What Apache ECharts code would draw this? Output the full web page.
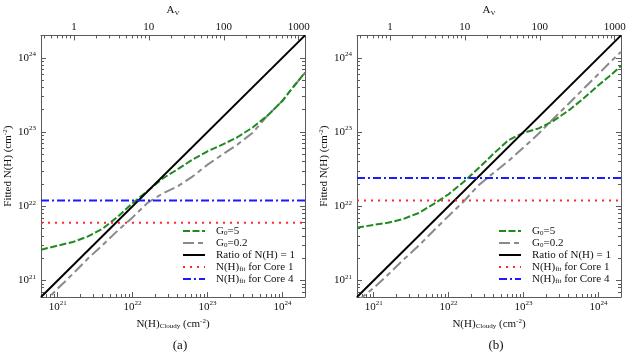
<!DOCTYPE html>
<html>
<head>
<meta charset="utf-8">
<script src="https://cdn.jsdelivr.net/npm/echarts@6/dist/echarts.min.js"></script>
<style>html,body{margin:0;padding:0;background:#fff;}#c{width:633px;height:358px;}</style>
</head>
<body>
<div id="c"></div>
<script>
// ---------------- data ----------------
const axisRange = [6e20, 2e24];                 // N(H) range of both axes
const avFactor = 1.65e21;                       // N(H) per magnitude of A_V
const nhTickExps = [21, 22, 23, 24];            // tick labels 10^n
const avTicks = [1, 10, 100, 1000];             // top-axis tick labels
const panelNames = ['(a)', '(b)'];
const seriesNames = ['G0=5', 'G0=0.2', 'Ratio of N(H) = 1', 'N(H)fit for Core 1', 'N(H)fit for Core 4'];

const nhCloudy = [6e20, 1e21, 1.6e21, 2.5e21, 4e21, 6.3e21, 1e22, 1.6e22, 2.5e22, 4e22, 6.3e22,
                  1e23, 1.6e23, 2.5e23, 4e23, 6.3e23, 1e24, 1.4e24, 2e24];
// panel (a)
const g5_a  = [2.6e21, 2.95e21, 3.3e21, 3.9e21, 5.0e21, 7.2e21, 1.1e22, 1.62e22, 2.35e22, 3.15e22, 4.25e22,
               5.5e22, 6.8e22, 8.5e22, 1.15e23, 1.66e23, 2.63e23, 4.07e23, 6.3e23];
const g02_a = [4.57e20, 7.76e20, 1.23e21, 1.95e21, 3.02e21, 4.68e21, 7.08e21, 1.12e22, 1.48e22, 1.86e22, 2.51e22,
               3.63e22, 5.01e22, 6.76e22, 9.77e22, 1.66e23, 2.63e23, 4.07e23, 6.3e23];
// panel (b)
const g5_b  = [5.13e21, 5.62e21, 6.03e21, 6.76e21, 8.13e21, 1.07e22, 1.45e22, 2.14e22, 3.24e22, 5.13e22, 7.76e22,
               9.77e22, 1.12e23, 1.41e23, 1.95e23, 2.82e23, 4.27e23, 5.62e23, 7.76e23];
const g02_b = [5.25e20, 7.94e20, 1.23e21, 1.91e21, 2.95e21, 4.68e21, 7.41e21, 1.17e22, 1.91e22, 2.82e22, 4.07e22,
               6.17e22, 9.55e22, 1.51e23, 2.4e23, 3.8e23, 6.03e23, 8.51e23, 1.2e24];
const core1 = [6e21, 1.2e22];    // N(H)fit for Core 1, panels a,b
const core4 = [1.2e22, 2.4e22];  // N(H)fit for Core 4, panels a,b

// ---------------- chart ----------------
const L = Math.log10;
const SERIF = '"Liberation Serif", "DejaVu Serif", serif';
const FRAME = '#5a5a5a';
const TXT = '#111';
const lo = L(axisRange[0]), hi = L(axisRange[1]);
const avLo = lo - L(avFactor), avHi = hi - L(avFactor);

function minorVals(a, b) {
  const out = [];
  for (let d = Math.floor(a) - 1; d <= Math.ceil(b); d++)
    for (let k = 2; k <= 9; k++) { const v = d + L(k); if (v > a && v < b) out.push(v); }
  return out;
}
const expRich = {
  b: {fontSize: 11, fontFamily: SERIF, color: TXT},
  s: {fontSize: 7, fontFamily: SERIF, color: TXT, padding: [0, 0, 7, 0]}
};
const nameRich = {
  t: {fontSize: 11, fontFamily: SERIF, color: TXT},
  sub: {fontSize: 7, fontFamily: SERIF, color: TXT, padding: [5, 0, 0, 0]},
  sup: {fontSize: 7, fontFamily: SERIF, color: TXT, padding: [0, 0, 6, 0]}
};
function expFmt(v) { return '{b|10}{s|' + Math.round(v) + '}'; }

const COLORS = {g5: '#1f8a1f', g02: '#8a8a8a', ratio: '#000000', c1: '#ff2a2a', c4: '#1a1aff'};
const grids = [], xAxes = [], yAxes = [], series = [], legends = [], graphics = [];
const panels = [
  {left: 41, g5: g5_a, g02: g02_a, c1: core1[0], c4: core4[0]},
  {left: 357, g5: g5_b, g02: g02_b, c1: core1[1], c4: core4[1]}
];
panels.forEach((p, g) => {
  grids.push({left: p.left, top: 32, width: 264, height: 265});
  const base = {type: 'value', gridIndex: g, splitLine: {show: false}};
  xAxes.push(Object.assign({}, base, {
    position: 'bottom', min: lo, max: hi,
    axisLine: {show: true, onZero: false, lineStyle: {color: FRAME, width: 1}},
    axisTick: {show: true, inside: true, length: 5, customValues: nhTickExps, lineStyle: {color: FRAME}},
    axisLabel: {show: true, customValues: nhTickExps, formatter: expFmt, rich: expRich, margin: 3},
    name: '{t|N(H)}{sub|Cloudy}{t| (cm}{sup|-2}{t|)}', nameLocation: 'middle', nameGap: 19,
    nameTextStyle: {rich: nameRich}
  }));
  xAxes.push(Object.assign({}, base, {
    position: 'bottom', min: lo, max: hi,
    axisLine: {show: false, onZero: false},
    axisTick: {show: true, inside: true, length: 3, customValues: minorVals(lo, hi), lineStyle: {color: FRAME}},
    axisLabel: {show: false}
  }));
  xAxes.push(Object.assign({}, base, {
    position: 'top', min: avLo, max: avHi,
    axisLine: {show: true, onZero: false, lineStyle: {color: FRAME, width: 1}},
    axisTick: {show: true, inside: true, length: 5, customValues: avTicks.map(L), lineStyle: {color: FRAME}},
    axisLabel: {show: true, customValues: avTicks.map(L), margin: 3,
      formatter: v => String(Math.round(Math.pow(10, v))), fontSize: 11, fontFamily: SERIF, color: TXT},
    name: '{t|A}{sub|V}', nameLocation: 'middle', nameGap: 18, nameTextStyle: {rich: nameRich}
  }));
  xAxes.push(Object.assign({}, base, {
    position: 'top', min: avLo, max: avHi,
    axisLine: {show: false, onZero: false},
    axisTick: {show: true, inside: true, length: 3, customValues: minorVals(avLo, avHi), lineStyle: {color: FRAME}},
    axisLabel: {show: false}
  }));
  yAxes.push(Object.assign({}, base, {
    position: 'left', min: lo, max: hi,
    axisLine: {show: true, onZero: false, lineStyle: {color: FRAME, width: 1}},
    axisTick: {show: true, inside: true, length: 5, customValues: nhTickExps, lineStyle: {color: FRAME}},
    axisLabel: {show: true, customValues: nhTickExps, formatter: expFmt, rich: expRich, margin: 5},
    name: '{t|Fitted N(H) (cm}{sup|-2}{t|)}', nameLocation: 'middle', nameGap: 26, nameRotate: 90,
    nameTextStyle: {rich: nameRich}
  }));
  yAxes.push(Object.assign({}, base, {
    position: 'left', min: lo, max: hi,
    axisLine: {show: false, onZero: false},
    axisTick: {show: true, inside: true, length: 3, customValues: minorVals(lo, hi), lineStyle: {color: FRAME}},
    axisLabel: {show: false}
  }));
  yAxes.push(Object.assign({}, base, {
    position: 'right', min: lo, max: hi,
    axisLine: {show: true, onZero: false, lineStyle: {color: FRAME, width: 1}},
    axisTick: {show: true, inside: true, length: 5, customValues: nhTickExps, lineStyle: {color: FRAME}},
    axisLabel: {show: false}
  }));
  yAxes.push(Object.assign({}, base, {
    position: 'right', min: lo, max: hi,
    axisLine: {show: false, onZero: false},
    axisTick: {show: true, inside: true, length: 3, customValues: minorVals(lo, hi), lineStyle: {color: FRAME}},
    axisLabel: {show: false}
  }));

  const xi = 4 * g, yi = 4 * g;
  const common = {type: 'line', xAxisIndex: xi, yAxisIndex: yi, symbol: 'none', showSymbol: false,
                  clip: true, silent: true, animation: false};
  series.push(Object.assign({}, common, {
    name: seriesNames[1], z: 2, itemStyle: {color: COLORS.g02},
    lineStyle: {color: COLORS.g02, width: 2, type: [11, 4, 5, 4]},
    data: nhCloudy.map((x, i) => [L(x), L(p.g02[i])])
  }));
  series.push(Object.assign({}, common, {
    name: seriesNames[0], z: 3, itemStyle: {color: COLORS.g5},
    lineStyle: {color: COLORS.g5, width: 2, type: [7, 2.5]},
    data: nhCloudy.map((x, i) => [L(x), L(p.g5[i])])
  }));
  series.push(Object.assign({}, common, {
    name: seriesNames[2], z: 4, itemStyle: {color: COLORS.ratio},
    lineStyle: {color: COLORS.ratio, width: 2, type: 'solid'},
    data: [[lo, lo], [hi, hi]]
  }));
  series.push(Object.assign({}, common, {
    name: seriesNames[3], z: 4, itemStyle: {color: COLORS.c1},
    lineStyle: {color: COLORS.c1, width: 2, type: [2, 5]},
    data: [[lo, L(p.c1)], [hi, L(p.c1)]]
  }));
  series.push(Object.assign({}, common, {
    name: seriesNames[4], z: 4, itemStyle: {color: COLORS.c4},
    lineStyle: {color: COLORS.c4, width: 2, type: [8, 3, 2, 3]},
    data: [[lo, L(p.c4)], [hi, L(p.c4)]]
  }));

  legends.push({
    orient: 'vertical', left: p.left + 141, top: 225, itemWidth: 22, itemHeight: 12, itemGap: 0,
    padding: 0, selectedMode: false, itemStyle: {opacity: 0},
    data: [seriesNames[0], seriesNames[1], seriesNames[2], seriesNames[3], seriesNames[4]],
    textStyle: {
      fontSize: 11, fontFamily: SERIF, color: TXT, lineHeight: 12,
      rich: {
        f: {fontSize: 11, fontFamily: SERIF, color: TXT, padding: [0, 0, 0, 6]},
        t: {fontSize: 11, fontFamily: SERIF, color: TXT},
        sub: {fontSize: 7, fontFamily: SERIF, color: TXT, padding: [5, 0, 0, 0]}
      }
    },
    formatter: function (n) {
      if (n === 'G0=5') return '{f|G}{sub|0}{t|=5}';
      if (n === 'G0=0.2') return '{f|G}{sub|0}{t|=0.2}';
      if (n === 'N(H)fit for Core 1') return '{f|N(H)}{sub|fit}{t| for Core 1}';
      if (n === 'N(H)fit for Core 4') return '{f|N(H)}{sub|fit}{t| for Core 4}';
      return '{f|' + n + '}';
    }
  });
  graphics.push({type: 'text', silent: true,
    style: {x: p.left + 139, y: 346, text: panelNames[g], textAlign: 'center', textVerticalAlign: 'middle',
            font: '13px ' + SERIF, fill: TXT}});
});

const chart = echarts.init(document.getElementById('c'), null, {renderer: 'canvas'});
chart.setOption({
  animation: false,
  backgroundColor: '#fff',
  grid: grids, xAxis: xAxes, yAxis: yAxes, series: series, legend: legends, graphic: graphics
});
</script>
</body>
</html>
